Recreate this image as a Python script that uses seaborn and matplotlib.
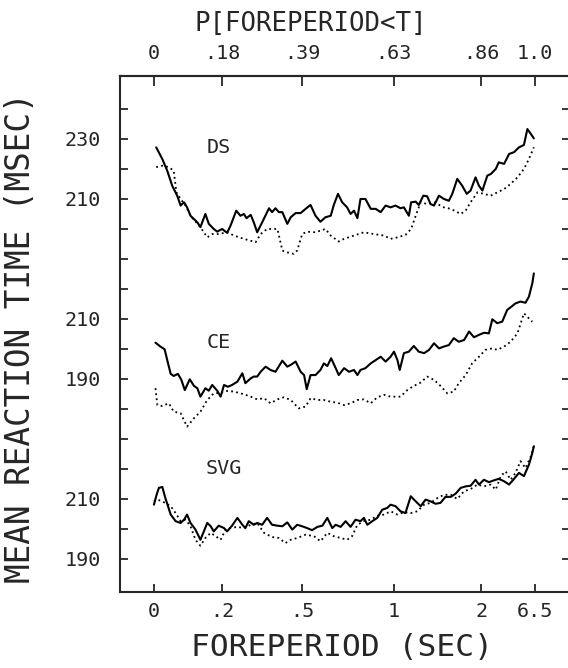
import numpy as np
import pandas as pd
import matplotlib
matplotlib.use('Agg')
import matplotlib.pyplot as plt
import seaborn as sns

# x = P[foreperiod < T] (quantile of the foreperiod), y = mean RT in msec
ds_solid_p = [0.007, 0.023, 0.036, 0.049, 0.062, 0.071, 0.080, 0.088, 0.097, 0.115, 0.123, 0.136, 0.145, 0.158,
              0.167, 0.180, 0.193, 0.202, 0.217, 0.228, 0.237, 0.244, 0.255, 0.263, 0.272, 0.285, 0.303, 0.311,
              0.320, 0.329, 0.338, 0.351, 0.360, 0.373, 0.386, 0.399, 0.412, 0.425, 0.438, 0.451, 0.465, 0.473,
              0.484, 0.495, 0.508, 0.517, 0.526, 0.535, 0.543, 0.556, 0.570, 0.583, 0.596, 0.609, 0.622, 0.635,
              0.648, 0.657, 0.670, 0.676, 0.688, 0.696, 0.708, 0.718, 0.727, 0.736, 0.749, 0.762, 0.775, 0.784,
              0.797, 0.810, 0.822, 0.832, 0.845, 0.854, 0.863, 0.876, 0.885, 0.898, 0.906, 0.920, 0.933, 0.946,
              0.959, 0.972, 0.981, 0.990, 0.998]
ds_solid_rt = [227.2, 223.3, 219.4, 214.4, 211.1, 207.8, 208.9, 207.2, 204.4, 202.2, 200.6, 205.0, 201.7, 200.0,
               199.1, 200.0, 198.7, 201.1, 206.1, 204.4, 205.0, 203.6, 204.7, 202.2, 198.9, 202.2, 206.9, 205.6,
               206.9, 205.6, 205.6, 201.7, 203.9, 205.3, 205.3, 206.7, 208.0, 204.4, 202.4, 203.9, 204.4, 208.0,
               211.7, 208.9, 207.2, 205.0, 206.1, 203.6, 210.0, 210.0, 206.7, 206.7, 205.6, 207.8, 207.2, 207.8,
               206.9, 207.2, 204.4, 208.9, 209.1, 208.0, 211.1, 210.9, 208.3, 207.8, 211.1, 210.0, 209.4, 211.7,
               216.7, 214.4, 211.7, 212.8, 217.2, 214.4, 212.8, 217.8, 218.3, 220.0, 222.2, 221.7, 225.0, 225.6,
               227.2, 228.0, 233.3, 231.7, 230.2]

ds_dot_p = [0.007, 0.023, 0.040, 0.053, 0.060, 0.071, 0.084, 0.097, 0.123, 0.141, 0.154, 0.171, 0.193, 0.211,
            0.237, 0.268, 0.281, 0.298, 0.325, 0.333, 0.338, 0.351, 0.368, 0.377, 0.390, 0.403, 0.421, 0.438,
            0.451, 0.465, 0.486, 0.500, 0.526, 0.552, 0.578, 0.605, 0.622, 0.640, 0.661, 0.676, 0.688, 0.701,
            0.718, 0.736, 0.762, 0.780, 0.806, 0.819, 0.832, 0.850, 0.867, 0.885, 0.902, 0.920, 0.937, 0.955,
            0.972, 0.985, 0.998]
ds_dot_rt = [220.6, 221.1, 220.6, 219.4, 212.2, 210.0, 207.8, 204.4, 200.6, 197.2, 198.3, 198.3, 198.9, 197.8,
             196.7, 195.6, 198.3, 200.0, 200.0, 195.6, 192.8, 192.2, 191.7, 192.8, 198.3, 199.1, 198.9, 199.4,
             200.0, 197.8, 195.8, 196.7, 197.8, 198.9, 198.3, 197.8, 196.7, 197.2, 198.0, 200.0, 204.4, 208.9,
             208.3, 208.9, 207.2, 206.7, 205.0, 206.1, 208.9, 212.2, 211.7, 211.1, 212.2, 213.3, 215.0, 217.2,
             220.0, 223.3, 227.2]

ce_solid_p = [0.005, 0.018, 0.029, 0.038, 0.045, 0.053, 0.064, 0.073, 0.082, 0.095, 0.106, 0.115, 0.123, 0.136,
              0.145, 0.154, 0.167, 0.176, 0.185, 0.195, 0.206, 0.220, 0.233, 0.241, 0.255, 0.263, 0.272, 0.281,
              0.294, 0.307, 0.320, 0.338, 0.351, 0.360, 0.373, 0.386, 0.395, 0.402, 0.412, 0.425, 0.438, 0.447,
              0.456, 0.466, 0.478, 0.486, 0.500, 0.513, 0.526, 0.535, 0.543, 0.556, 0.570, 0.583, 0.596, 0.609,
              0.622, 0.631, 0.640, 0.646, 0.657, 0.670, 0.683, 0.696, 0.710, 0.723, 0.736, 0.749, 0.762, 0.775,
              0.788, 0.801, 0.815, 0.828, 0.841, 0.854, 0.867, 0.880, 0.889, 0.902, 0.915, 0.928, 0.939, 0.950,
              0.963, 0.976, 0.985, 0.994, 0.998]
ce_solid_rt = [202.1, 200.8, 199.9, 195.2, 191.7, 191.0, 191.7, 189.7, 186.3, 189.9, 187.7, 186.9, 184.1, 186.9,
               186.1, 188.0, 186.1, 184.1, 188.0, 187.4, 188.0, 189.1, 191.9, 188.6, 190.2, 190.8, 190.8, 192.4,
               194.1, 193.0, 192.4, 196.1, 194.1, 194.7, 195.8, 192.4, 191.3, 186.6, 191.3, 191.3, 193.0, 195.2,
               194.3, 196.9, 193.6, 191.3, 193.6, 192.4, 193.0, 191.3, 193.0, 193.6, 195.2, 196.3, 197.4, 195.8,
               197.4, 199.1, 196.3, 193.0, 198.6, 199.1, 201.0, 199.1, 198.6, 199.7, 201.9, 200.2, 200.8, 201.3,
               203.6, 202.4, 203.0, 205.8, 203.9, 204.7, 205.4, 205.2, 209.9, 208.6, 209.1, 213.0, 214.1, 215.2,
               215.8, 215.4, 217.4, 221.9, 225.2]

ce_dot_p = [0.005, 0.010, 0.023, 0.040, 0.053, 0.071, 0.088, 0.106, 0.123, 0.141, 0.158, 0.176, 0.193, 0.211,
            0.237, 0.255, 0.272, 0.290, 0.307, 0.325, 0.342, 0.360, 0.381, 0.399, 0.412, 0.430, 0.447, 0.465,
            0.482, 0.500, 0.517, 0.535, 0.552, 0.570, 0.587, 0.605, 0.622, 0.648, 0.666, 0.683, 0.701, 0.718,
            0.736, 0.753, 0.771, 0.788, 0.801, 0.819, 0.836, 0.854, 0.871, 0.889, 0.902, 0.920, 0.937, 0.955,
            0.972, 0.985, 0.994]
ce_dot_rt = [186.9, 181.3, 181.0, 181.9, 179.1, 178.6, 174.1, 176.9, 179.1, 183.0, 185.2, 185.4, 186.0, 185.8,
             184.9, 184.1, 183.2, 183.6, 181.9, 183.2, 183.9, 183.0, 180.2, 180.8, 183.6, 183.0, 183.0, 182.4,
             182.1, 181.3, 181.9, 183.0, 183.2, 181.9, 183.9, 184.7, 184.1, 184.1, 186.3, 187.7, 188.8, 190.8,
             189.7, 187.7, 185.2, 185.8, 188.6, 191.3, 195.2, 197.4, 199.7, 200.2, 199.7, 200.8, 202.4, 205.2,
             211.9, 210.2, 209.1]

svg_solid_p = [0.001, 0.008, 0.014, 0.023, 0.031, 0.045, 0.058, 0.071, 0.080, 0.088, 0.097, 0.110, 0.123, 0.132,
               0.141, 0.150, 0.158, 0.171, 0.185, 0.193, 0.206, 0.220, 0.233, 0.241, 0.250, 0.263, 0.272, 0.285,
               0.298, 0.311, 0.325, 0.338, 0.351, 0.364, 0.377, 0.390, 0.403, 0.416, 0.430, 0.443, 0.456, 0.469,
               0.478, 0.491, 0.504, 0.517, 0.530, 0.543, 0.552, 0.561, 0.574, 0.587, 0.600, 0.613, 0.622, 0.635,
               0.648, 0.661, 0.675, 0.688, 0.701, 0.714, 0.727, 0.740, 0.753, 0.766, 0.780, 0.793, 0.806, 0.819,
               0.832, 0.845, 0.854, 0.867, 0.880, 0.893, 0.906, 0.920, 0.933, 0.946, 0.959, 0.972, 0.985, 0.994,
               0.998]
svg_solid_rt = [208.1, 211.4, 213.7, 214.0, 210.3, 204.8, 202.6, 202.0, 203.1, 204.8, 202.0, 199.8, 196.4, 199.2,
                202.0, 200.9, 199.2, 201.1, 200.3, 199.2, 201.1, 203.7, 201.4, 200.3, 202.6, 201.4, 202.0, 201.4,
                203.7, 201.4, 201.1, 200.9, 202.2, 199.8, 201.4, 200.9, 200.3, 199.6, 200.7, 201.1, 203.7, 200.3,
                201.4, 200.7, 202.6, 200.7, 203.1, 202.6, 203.7, 201.4, 202.6, 203.7, 206.4, 207.0, 208.1, 207.6,
                205.9, 205.3, 210.9, 209.2, 207.6, 209.8, 209.2, 208.4, 208.7, 210.7, 210.7, 211.8, 213.7, 214.2,
                214.4, 216.4, 214.8, 216.4, 215.6, 216.2, 216.7, 215.9, 214.8, 216.7, 218.7, 217.6, 221.4, 225.3,
                227.6]

svg_dot_p = [0.001, 0.010, 0.023, 0.045, 0.058, 0.071, 0.084, 0.097, 0.110, 0.123, 0.136, 0.150, 0.163, 0.176,
             0.189, 0.202, 0.220, 0.237, 0.255, 0.272, 0.290, 0.311, 0.329, 0.346, 0.360, 0.377, 0.399, 0.421,
             0.438, 0.456, 0.473, 0.491, 0.508, 0.521, 0.535, 0.552, 0.570, 0.587, 0.605, 0.622, 0.640, 0.657,
             0.675, 0.692, 0.710, 0.727, 0.745, 0.762, 0.780, 0.797, 0.815, 0.832, 0.850, 0.867, 0.885, 0.898,
             0.911, 0.924, 0.937, 0.950, 0.963, 0.976, 0.990, 0.998]
svg_dot_rt = [209.2, 209.8, 209.2, 207.6, 205.3, 202.6, 203.1, 200.9, 196.4, 194.4, 197.0, 198.7, 197.6, 196.4,
              199.8, 200.3, 200.7, 200.3, 201.4, 202.0, 198.7, 197.3, 197.0, 195.3, 196.4, 197.0, 198.1, 197.6,
              195.9, 198.7, 197.6, 197.0, 196.4, 197.6, 201.4, 202.6, 203.1, 204.4, 204.8, 205.9, 204.8, 205.6,
              205.3, 205.9, 208.1, 208.7, 210.3, 211.4, 211.4, 210.0, 212.6, 213.3, 214.8, 214.2, 214.8, 213.1,
              217.6, 219.2, 216.4, 218.7, 222.6, 220.3, 224.2, 227.6]

# panels are stacked on one axis, each shifted up by an offset (msec)
groups = ['DS', 'CE', 'SVG']
offsets = [100, 60, 0]
label_pos = [(0.171, 327.3), (0.171, 262.2), (0.184, 220.1)]

# foreperiod tick labels sit at their quantile positions
quantile_ticks = [0, 0.18, 0.39, 0.63, 0.86, 1.0]
quantile_labels = ['0', '.18', '.39', '.63', '.86', '1.0']
foreperiod_labels = ['0', '.2', '.5', '1', '2', '6.5']

# y tick labels (actual msec) at the stacked positions
ytick_pos = list(range(190, 341, 10))
ytick_text = {330: '230', 310: '210', 270: '210', 250: '190', 210: '210', 190: '190'}

series = {
    'DS': [(ds_solid_p, ds_solid_rt), (ds_dot_p, ds_dot_rt)],
    'CE': [(ce_solid_p, ce_solid_rt), (ce_dot_p, ce_dot_rt)],
    'SVG': [(svg_solid_p, svg_solid_rt), (svg_dot_p, svg_dot_rt)],
}

sns.set_style('ticks')
mono = ['DejaVu Sans Mono', 'DejaVu Sans']
plt.rcParams['font.family'] = mono

fig = plt.figure(figsize=(5.68, 6.68), dpi=100)
ax = fig.add_axes([0.2113, 0.1138, 0.7923, 0.7725])

for g, off in zip(groups, offsets):
    (sp, srt), (dp, drt) = series[g]
    df_s = pd.DataFrame({'p': sp, 'rt': np.array(srt) + off})
    df_d = pd.DataFrame({'p': dp, 'rt': np.array(drt) + off})
    sns.lineplot(data=df_s, x='p', y='rt', ax=ax, color='black', lw=1.5,
                 estimator=None, sort=False)
    sns.lineplot(data=df_d, x='p', y='rt', ax=ax, color='black', lw=1.3,
                 linestyle=(0, (1, 1.8)), estimator=None, sort=False)

for g, (px, py) in zip(groups, label_pos):
    ax.text(px, py, g, ha='center', va='center', fontsize=14.5)

ax.set_xlim(-0.088, 1.093)
ax.set_ylim(179, 351)

ax.set_xticks(quantile_ticks)
ax.set_xticklabels(foreperiod_labels, fontsize=14.5)
ax.set_yticks(ytick_pos)
ax.set_yticklabels([ytick_text.get(v, '') for v in ytick_pos], fontsize=14.5)
ax.tick_params(axis='x', direction='in', length=6, width=1.3, pad=7)
ax.tick_params(axis='y', direction='in', length=6, width=1.3, pad=14,
               right=True, labelright=False)
ax.set_xlabel('')
ax.set_ylabel('')

top = ax.secondary_xaxis('top')
top.set_xticks(quantile_ticks)
top.set_xticklabels(quantile_labels, fontsize=14.5)
top.tick_params(direction='in', length=7, width=1.3, pad=9)

for s in ax.spines.values():
    s.set_linewidth(1.5)
top.spines['top'].set_linewidth(1.5)

fig.text(0.5475, 0.964, 'P[FOREPERIOD<T]', ha='center', va='center', fontsize=18.5)
fig.text(0.602, 1 - 648 / 668, 'FOREPERIOD (SEC)', ha='center', va='center', fontsize=22.5)
fig.text(0.036, 1 - 338 / 668, 'MEAN REACTION TIME (MSEC)', ha='center', va='center',
         rotation=90, fontsize=23.5)

fig.savefig('out.png', dpi=100)
